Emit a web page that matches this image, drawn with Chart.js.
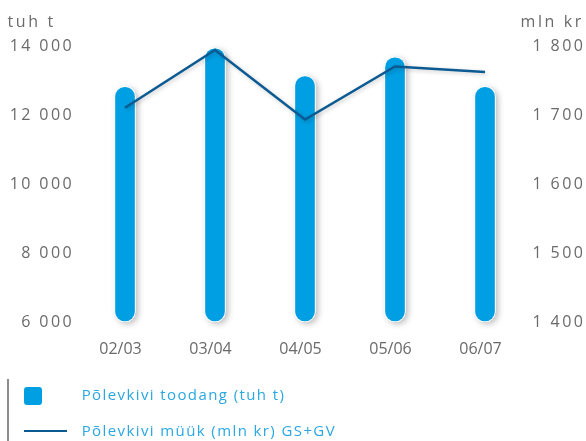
<!DOCTYPE html>
<html>
<head>
<meta charset="utf-8">
<script src="https://cdn.jsdelivr.net/npm/chart.js@4"></script>
<style>
  html, body { margin: 0; padding: 0; background: #fff; }
  #wrap { position: relative; width: 586px; height: 441px; overflow: hidden; font-family: "Open Sans", sans-serif; }
  #wrap canvas { position: absolute; left: 0; top: 0; }
  .unit { position: absolute; top: 12.5px; font-size: 16px; line-height: 16px; color: #6a6a6a; letter-spacing: 2.6px; white-space: nowrap; }
  .legend-text { position: absolute; left: 81.7px; font-size: 15px; line-height: 15px; color: #2aa7e1; letter-spacing: 1.4px; white-space: nowrap; }
  .legend-rule { position: absolute; left: 7px; top: 379px; width: 1.5px; height: 62px; background: #8c8c8c; }
  .legend-box { position: absolute; left: 24px; top: 387px; width: 18px; height: 18px; border-radius: 3px; background: #009fe3; }
  .legend-line { position: absolute; left: 24px; top: 429.5px; width: 43px; height: 2.5px; background: #0b5a92; }
</style>
</head>
<body>
<div id="wrap">
  <canvas id="chart" width="586" height="441"></canvas>
  <div class="unit" style="left:7.5px">tuh t</div>
  <div class="unit" style="left:520.5px">mln kr</div>
  <div class="legend-rule"></div>
  <div class="legend-box"></div>
  <div class="legend-text" style="top:387.4px">Põlevkivi toodang (tuh t)</div>
  <div class="legend-line"></div>
  <div class="legend-text" style="top:422.7px">Põlevkivi müük (mln kr) GS+GV</div>
</div>
<script>
// Oil shale production (thousand tonnes) and sales (million kroons) by fiscal year
const categories = ['02/03', '03/04', '04/05', '05/06', '06/07'];
const productionKt = [12845, 13960, 13155, 13700, 12845];
const salesMlnKr = [1711, 1795, 1694, 1771, 1763];
const productionTicks = [6000, 8000, 10000, 12000, 14000];
const salesTicks = [1400, 1500, 1600, 1700, 1800];

const BAR_BLUE = '#009fe3';
const LINE_BLUE = '#0b5a92';
const TICK_GREY = '#6a6a6a';

// "14 000" style thousands separator
const spaced = v => String(v).replace(/\B(?=(\d{3})+(?!\d))/g, ' ');

// Soft drop shadow under bars and the sales line
const shadows = {
  id: 'shadows',
  beforeDatasetDraw(chart, args) {
    const ctx = chart.ctx;
    const meta = args.meta;
    ctx.save();
    ctx.shadowColor = 'rgba(0,0,0,0.28)';
    ctx.shadowBlur = 6;
    ctx.shadowOffsetX = 2.5;
    ctx.shadowOffsetY = 2;
    if (meta.type === 'bar') {
      ctx.fillStyle = '#ffffff';
      meta.data.forEach(bar => {
        const p = bar.getProps(['x', 'y', 'base', 'width'], true);
        const top = Math.min(p.y, p.base);
        const h = Math.abs(p.base - p.y);
        ctx.beginPath();
        ctx.roundRect(p.x - p.width / 2, top, p.width, h, p.width / 2);
        ctx.fill();
      });
      ctx.restore();
    } else {
      ctx.shadowColor = 'rgba(0,0,0,0.22)';
      ctx.shadowBlur = 4;
      ctx.shadowOffsetX = 1.5;
      ctx.shadowOffsetY = 1.5;
    }
  },
  afterDatasetDraw(chart, args) {
    if (args.meta.type !== 'bar') chart.ctx.restore();
  }
};

// Wider tracking on the value-axis labels
const trackedTicks = {
  id: 'trackedTicks',
  beforeDraw(chart) {
    ['y', 'y1'].forEach(id => {
      const s = chart.scales[id];
      if (!s || s._tracked) return;
      const orig = s.drawLabels;
      s.drawLabels = function (area) {
        const ctx = this.ctx;
        ctx.save();
        ctx.letterSpacing = '2.4px';
        orig.call(this, area);
        ctx.restore();
      };
      s._tracked = true;
    });
  }
};

new Chart(document.getElementById('chart'), {
  data: {
    labels: categories,
    datasets: [
      {
        type: 'line',
        label: 'Põlevkivi müük (mln kr) GS+GV',
        data: salesMlnKr,
        yAxisID: 'y1',
        borderColor: LINE_BLUE,
        borderWidth: 2.5,
        pointRadius: 0,
        tension: 0,
        fill: false,
        order: 0,
        clip: false
      },
      {
        type: 'bar',
        label: 'Põlevkivi toodang (tuh t)',
        data: productionKt,
        base: productionTicks[0],
        yAxisID: 'y',
        backgroundColor: BAR_BLUE,
        borderColor: '#ffffff',
        borderWidth: 1,
        borderSkipped: false,
        borderRadius: 12,
        barThickness: 21,
        order: 1,
        clip: false
      }
    ]
  },
  options: {
    responsive: false,
    animation: false,
    layout: { padding: { top: 46.5, left: 0, right: 0, bottom: 0 } },
    plugins: { legend: { display: false }, tooltip: { enabled: false } },
    scales: {
      x: {
        grid: { display: false, drawTicks: false },
        border: { display: false },
        ticks: { color: TICK_GREY, font: { family: 'Open Sans', size: 16 }, padding: 18, labelOffset: -4.5 },
        afterFit: s => { s.height = 119; }
      },
      y: {
        position: 'left',
        min: 6000,
        max: 14000,
        grid: { display: false, drawTicks: false },
        border: { display: false },
        afterBuildTicks: s => { s.ticks = productionTicks.map(v => ({ value: v })); },
        ticks: { color: TICK_GREY, font: { family: 'Open Sans', size: 16 }, padding: 6, callback: v => spaced(v) },
        afterFit: s => { s.width = 80; }
      },
      y1: {
        position: 'right',
        min: 1400,
        max: 1800,
        grid: { display: false, drawTicks: false },
        border: { display: false },
        afterBuildTicks: s => { s.ticks = salesTicks.map(v => ({ value: v })); },
        ticks: { color: TICK_GREY, font: { family: 'Open Sans', size: 16 }, padding: 2.5, callback: v => spaced(v) },
        afterFit: s => { s.width = 56; }
      }
    }
  },
  plugins: [shadows, trackedTicks]
});
</script>
</body>
</html>
